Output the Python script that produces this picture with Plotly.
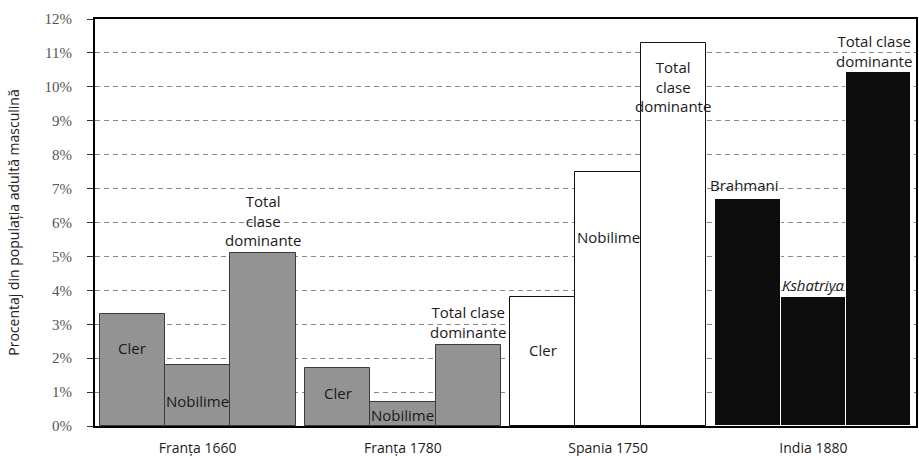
import plotly.graph_objects as go

# ---- data ----
groups = ["Franța 1660", "Franța 1780", "Spania 1750", "India 1880"]
bar_values = [
    [3.3, 1.8, 5.1],    # Franța 1660: Cler, Nobilime, Total
    [1.7, 0.7, 2.4],    # Franța 1780
    [3.8, 7.5, 11.3],   # Spania 1750
    [6.7, 3.8, 10.45],  # India 1880: Brahmani, Kshatriya, Total
]
bar_labels = [
    ["Cler", "Nobilime", "Total<br>clase<br>dominante"],
    ["Cler", "Nobilime", "Total clase<br>dominante"],
    ["Cler", "Nobilime", "Total<br>clase<br>dominante"],
    ["Brahmani", "<i>Kshatriya</i>", "Total clase<br>dominante"],
]
y_ticks = list(range(0, 13))

# ---- styles / label placement ----
group_fill = ["#939393", "#939393", "#ffffff", "#0d0d0d"]
group_line = ["#3a3a3a", "#3a3a3a", "#111111", "#ffffff"]
label_y = [
    [2.3, 0.74, 6.05],
    [0.97, 0.33, 3.07],
    [2.24, 5.58, 10.0],
    [7.12, 4.15, 11.06],
]
label_dx = [
    [0, 0, 0],
    [0, 0, 0],
    [0, 0, 0],
    [-4, 0, -5],
]
w = 0.318
offsets = [-w, 0, w]

fig = go.Figure()
for gi, g in enumerate(groups):
    fig.add_trace(go.Bar(
        x=[gi + o for o in offsets],
        y=bar_values[gi],
        width=w,
        marker=dict(color=group_fill[gi], line=dict(color=group_line[gi], width=1)),
        showlegend=False,
        hoverinfo="skip",
    ))
    for bi in range(3):
        fig.add_annotation(
            x=gi + offsets[bi], y=label_y[gi][bi], xref="x", yref="y",
            xshift=label_dx[gi][bi],
            text=bar_labels[gi][bi], showarrow=False,
            font=dict(family="Open Sans", size=15, color="#1a1a1a"),
            align="center",
        )

fig.update_layout(
    width=919, height=456,
    margin=dict(l=95, r=3, t=19, b=30),
    plot_bgcolor="white", paper_bgcolor="white",
    bargap=0,
)
fig.update_xaxes(
    range=[-0.5, 3.5], automargin=False,
    tickvals=list(range(len(groups))), ticktext=groups,
    tickfont=dict(family="Open Sans", size=14, color="#222"),
    showgrid=False, zeroline=False,
    showline=True, linecolor="black", linewidth=2, mirror=True,
    ticks="", ticklabelstandoff=8,
)
fig.update_yaxes(
    range=[0, 12], automargin=False,
    tickvals=y_ticks, ticktext=[f"{v}%" for v in y_ticks],
    tickfont=dict(family="Liberation Serif", size=15, color="#555"),
    showgrid=True, gridcolor="#8a8a8a", gridwidth=1, griddash="5px,4px",
    zeroline=False,
    showline=True, linecolor="black", linewidth=2, mirror=True,
    ticks="outside", ticklen=6, tickcolor="#333", ticklabelstandoff=12,
    title=dict(text="Procentaj din populația adultă masculină",
               font=dict(family="Open Sans", size=14, color="#222"), standoff=22),
)
fig.write_html("out.html", config={"displayModeBar": False},
               post_script="document.body.style.margin='0';")
